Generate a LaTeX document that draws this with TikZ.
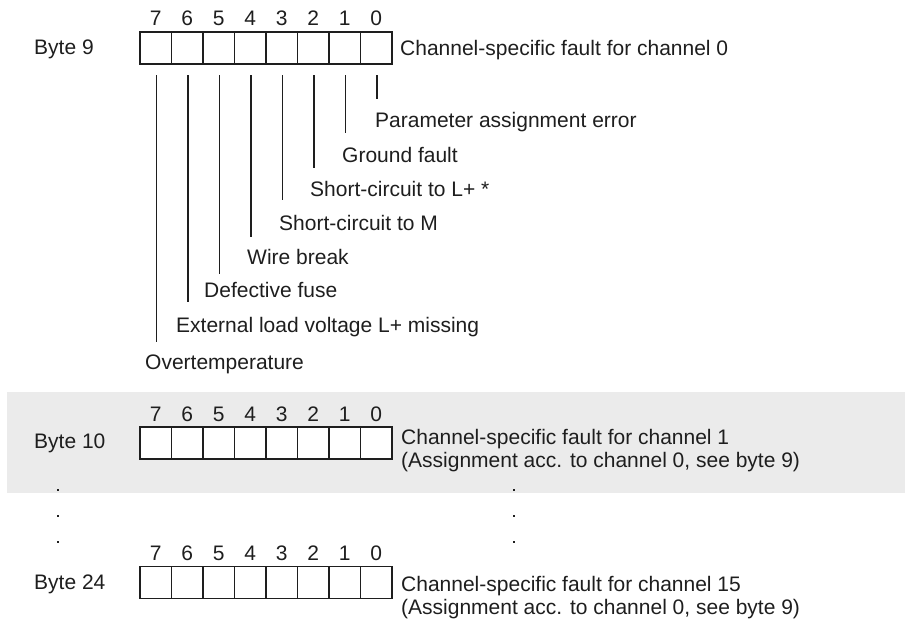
\documentclass[tikz,border=0pt]{standalone}
\usepackage{fontspec}
\setmainfont{Liberation Sans}
\definecolor{ink}{HTML}{1E1E1E}
\definecolor{band}{HTML}{EBEBEB}
\tikzset{
  cell/.style={draw=ink, line width=1.6pt, fill=white, minimum width=31.5pt, minimum height=32pt, inner sep=0pt, outer sep=0pt},
  lbl/.style={font=\fontsize{21}{24}\selectfont, text=ink, inner sep=0pt, anchor=base west},
  bitnum/.style={font=\fontsize{21}{24}\selectfont, text=ink, inner sep=0pt, anchor=base},
  leader/.style={line width=1.4pt, draw=ink},
  dotmark/.style={fill=ink, rectangle, minimum size=2.4pt, inner sep=0pt, outer sep=0pt}
}
\begin{document}
\begin{tikzpicture}[x=1pt,y=-1pt]
\useasboundingbox (0,0) rectangle (905,621);
% grey band
\fill[band] (7,392) rectangle (905,493);

% ---------- Byte 9 ----------
\node[lbl] (b9) at (34,54) {Byte 9};
\foreach \b in {0,...,7} {
  \pgfmathsetmacro\cx{155.75+31.5*(7-\b)}
  \node[cell] (a\b) at (\cx,48) {};
  \node[bitnum] (na\b) at (\cx,25) {\b};
}
\node[lbl] (t9) at (400,55) {Channel-specific fault for channel 0};

% leader lines
\foreach \b/\e in {0/99,1/133,2/168,3/200,4/237,5/274,6/302,7/342} {
  \coordinate (e\b) at ([xshift=0.7pt]a\b.south |- 0,\e);
  \draw[leader] ([xshift=0.7pt,yshift=-11pt]a\b.south) -- (e\b);
}
\node[lbl] (l0) at (375,127) {Parameter assignment error};
\node[lbl] (l1) at (342,162) {Ground fault};
\node[lbl] (l2) at (310,196) {Short-circuit to L+ *};
\node[lbl] (l3) at (279,230) {Short-circuit to M};
\node[lbl] (l4) at (247,264) {Wire break};
\node[lbl] (l5) at (204,297) {Defective fuse};
\node[lbl] (l6) at (176,332) {External load voltage L+ missing};
\node[lbl] (l7) at (145,369) {Overtemperature};

% ---------- Byte 10 ----------
\node[lbl] (b10) at (34,448) {Byte 10};
\foreach \b in {0,...,7} {
  \pgfmathsetmacro\cx{155.75+31.5*(7-\b)}
  \node[cell] (c\b) at (\cx,443) {};
  \node[bitnum] (nc\b) at (\cx,421) {\b};
}
\node[lbl] (t10a) at (401,444) {Channel-specific fault for channel 1};
\node[lbl] (t10b) at (401,467) {(Assignment acc. to channel 0, see byte 9)};

% ---------- dots ----------
\foreach \y [count=\i] in {490,516,542} {
  \node[dotmark] (dl\i) at (58,\y) {};
  \node[dotmark] (dr\i) at (514,\y) {};
}

% ---------- Byte 24 ----------
\node[lbl] (b24) at (34,589) {Byte 24};
\foreach \b in {0,...,7} {
  \pgfmathsetmacro\cx{155.75+31.5*(7-\b)}
  \node[cell] (d\b) at (\cx,582.5) {};
  \node[bitnum] (nd\b) at (\cx,560) {\b};
}
\node[lbl] (t24a) at (401,591) {Channel-specific fault for channel 15};
\node[lbl] (t24b) at (401,614) {(Assignment acc. to channel 0, see byte 9)};
\end{tikzpicture}
\end{document}
